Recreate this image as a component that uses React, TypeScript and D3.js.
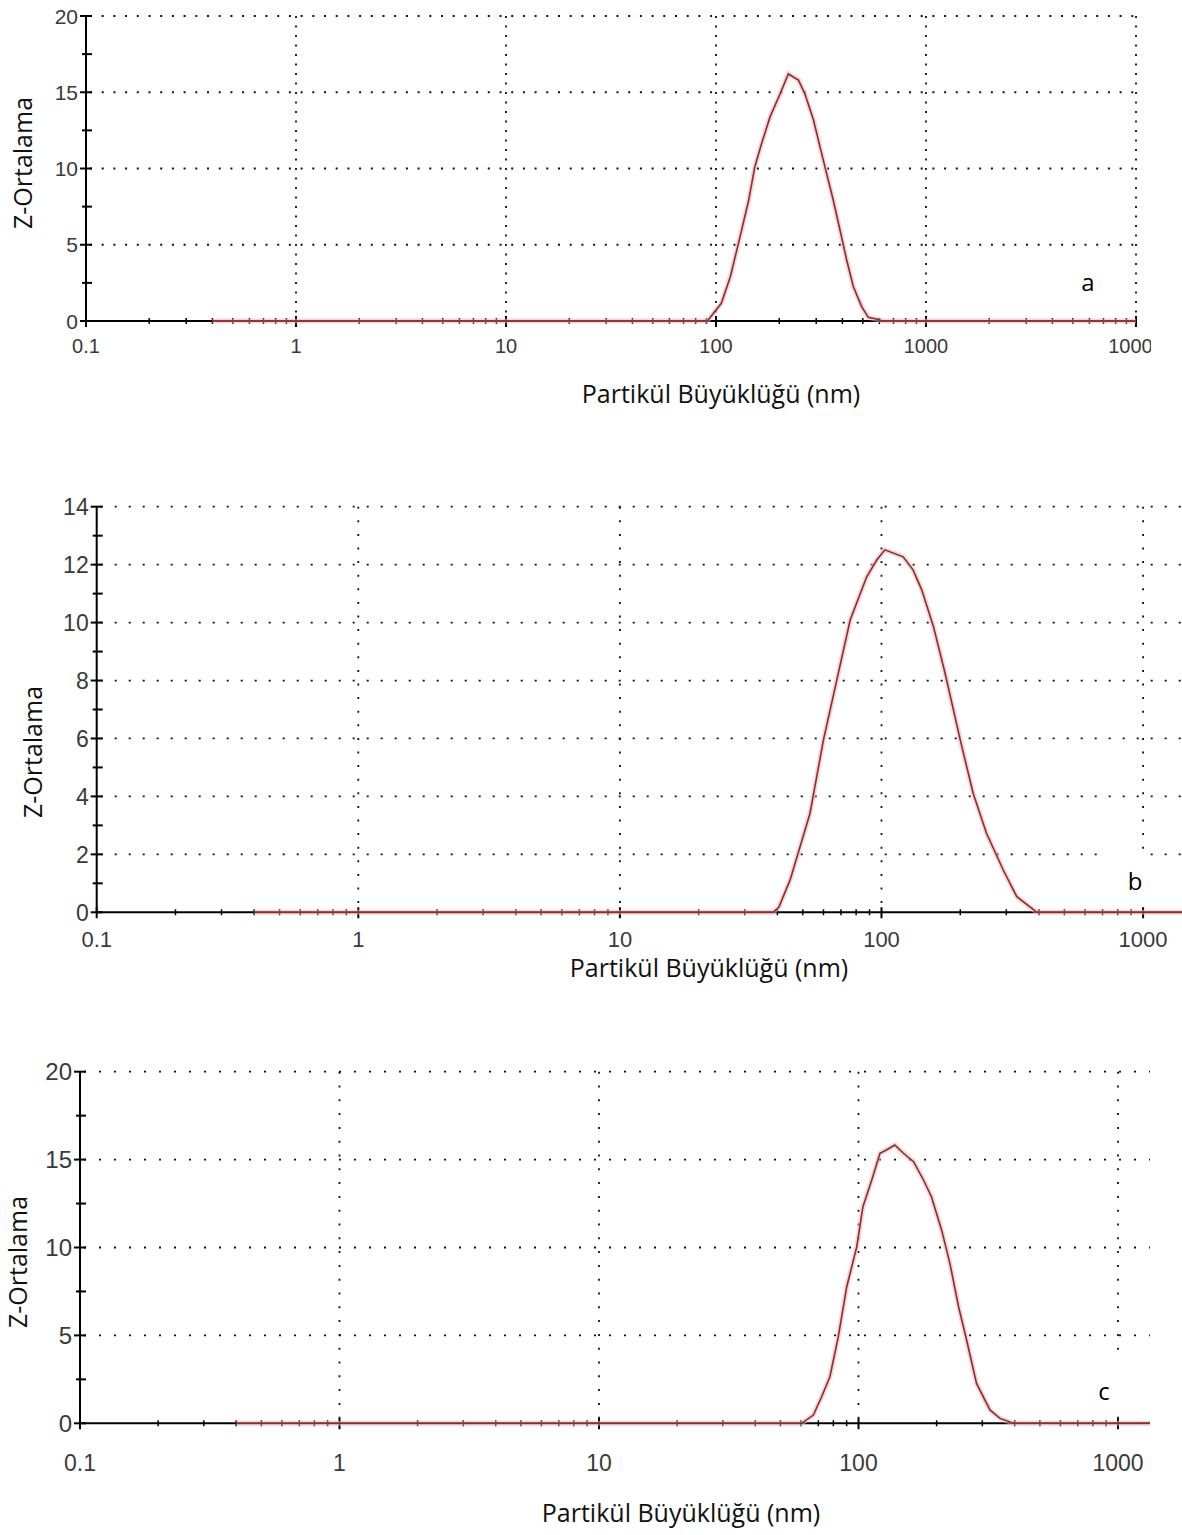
import React from "react";
import * as d3 from "d3";

// ---- data ----
const xTickLabels = ["0.1", "1", "10", "100", "1000", "10000"];
const xTickValues = [0.1, 1, 10, 100, 1000, 10000];

const sizeA = [0.4, 91, 106, 117, 130, 143, 153, 165, 181, 202, 221, 247, 265, 291, 313, 336, 362, 389, 419, 451, 494, 531, 593, 620, 10000];
const zA = [0, 0, 1.16, 2.9, 5.5, 7.9, 10.1, 11.65, 13.4, 14.9, 16.2, 15.8, 14.9, 13.2, 11.4, 9.7, 7.9, 6.0, 4.0, 2.25, 0.94, 0.24, 0.1, 0, 0];

const sizeB = [0.4, 38.5, 40.5, 44.7, 48, 53.3, 60, 67.5, 75.9, 87.8, 95.9, 103, 121, 132, 142.5, 158, 175, 200, 224, 252, 292, 329, 380, 392, 10000];
const zB = [0, 0, 0.17, 1.11, 2.04, 3.42, 5.95, 8.02, 10.09, 11.58, 12.16, 12.51, 12.27, 11.82, 11.13, 9.86, 8.25, 5.95, 4.11, 2.73, 1.46, 0.54, 0.1, 0, 0];

const sizeC = [0.4, 60.4, 67, 72.1, 77.6, 83.6, 90.1, 98.5, 104, 112.5, 121, 128, 138, 149, 163, 178, 191, 209, 225, 243, 261, 285, 321, 351, 395, 10000];
const zC = [0, 0, 0.47, 1.51, 2.65, 4.93, 7.77, 10.05, 12.32, 13.84, 15.36, 15.55, 15.83, 15.36, 14.88, 13.84, 12.89, 11.0, 9.1, 6.63, 4.74, 2.27, 0.76, 0.28, 0, 0];

const yTicksA = [0, 5, 10, 15, 20];
const yTicksB = [0, 2, 4, 6, 8, 10, 12, 14];
const yTicksC = [0, 5, 10, 15, 20];

const yTitle = "Z-Ortalama";
const xTitle = "Partikül Büyüklüğü (nm)";

type PanelProps = {
  id: string;
  sizes: number[];
  values: number[];
  yTicks: number[];
  yMinorStep: number;
  left: number;
  decade: number;
  y0: number;
  yTop: number;
  clipRight: number;
  hDash: string;
  vDash: string;
  tickFont: number;
  yLabelFont: number;
  xLabelBaseline: number;
  yTitleX: number;
  yTitleY: number;
  xTitleX: number;
  xTitleY: number;
  letter: string;
  letterX: number;
  letterY: number;
  box?: [number, number, number, number];
};

function Panel(p: PanelProps) {
  const yMax = p.yTicks[p.yTicks.length - 1];
  const x = d3.scaleLog().domain([0.1, 10000]).range([p.left, p.left + 5 * p.decade]);
  const y = d3.scaleLinear().domain([0, yMax]).range([p.y0, p.yTop]);
  const pts: [number, number][] = p.sizes.map((s, i) => [s, p.values[i]]);
  const line = d3
    .line<[number, number]>()
    .x((d) => x(d[0]))
    .y((d) => y(d[1]));
  const path = line(pts) || "";

  const minorX: number[] = [];
  for (let e = -1; e < 4; e++) {
    for (let k = 2; k <= 9; k++) minorX.push(k * Math.pow(10, e));
  }
  const minorY: number[] = [];
  for (let v = p.yMinorStep; v < yMax; v += p.yMinorStep * 2) minorY.push(v);

  const clipId = "clip-" + p.id;
  const tickColor = "#3a3a3a";
  const visibleLabels = xTickValues
    .map((t, i) => ({ t, label: xTickLabels[i] }))
    .filter((d) => x(d.t) < p.clipRight + 10);
  return (
    <g>
      <defs>
        <clipPath id={clipId}>
          <rect x={0} y={p.yTop - 30} width={p.clipRight} height={p.y0 - p.yTop + 80} />
        </clipPath>
      </defs>
      <g clipPath={`url(#${clipId})`}>
        {/* horizontal grid */}
        {p.yTicks.slice(1).map((t) => (
          <line key={"h" + t} x1={p.left + 4} x2={x(10000)} y1={y(t)} y2={y(t)} stroke="#111" strokeWidth={1.8} strokeDasharray={p.hDash} />
        ))}
        {/* vertical grid */}
        {xTickValues.slice(1).map((t) => (
          <line key={"v" + t} x1={x(t)} x2={x(t)} y1={p.yTop} y2={p.y0 - 4} stroke="#111" strokeWidth={1.8} strokeDasharray={p.vDash} />
        ))}
        {/* x axis */}
        <line x1={p.left} x2={x(10000)} y1={p.y0} y2={p.y0} stroke="#000" strokeWidth={2} />
        {xTickValues.map((t) => (
          <line key={"xt" + t} x1={x(t)} x2={x(t)} y1={p.y0 - 5} y2={p.y0 + 6} stroke="#000" strokeWidth={2} />
        ))}
        {minorX.map((t) => (
          <line key={"xm" + t} x1={x(t)} x2={x(t)} y1={p.y0 - 3} y2={p.y0 + 3} stroke="#000" strokeWidth={1.5} />
        ))}
        {/* data line */}
        <path d={path} fill="none" stroke="#f2b3b3" strokeOpacity={0.55} strokeWidth={5} />
        <path d={path} fill="none" stroke="#8a2d2d" strokeWidth={1.6} />
        {/* x tick labels */}
        {visibleLabels.map((d) => (
          <text key={"xl" + d.t} x={x(d.t)} y={p.xLabelBaseline} textAnchor="middle" fontFamily="'Liberation Sans', Arial, sans-serif" fontSize={p.tickFont} fill={tickColor}>
            {d.label}
          </text>
        ))}
      </g>
      {/* y axis */}
      <line x1={p.left} x2={p.left} y1={p.yTop} y2={p.y0} stroke="#000" strokeWidth={2} />
      {p.yTicks.map((t) => (
        <line key={"yt" + t} x1={p.left - 6} x2={p.left + 6} y1={y(t)} y2={y(t)} stroke="#000" strokeWidth={2} />
      ))}
      {minorY.map((t) => (
        <line key={"ym" + t} x1={p.left - 4} x2={p.left + 6} y1={y(t)} y2={y(t)} stroke="#000" strokeWidth={2} />
      ))}
      {p.yTicks.map((t) => (
        <text key={"yl" + t} x={p.left - 8} y={y(t)} dy="0.36em" textAnchor="end" fontFamily="'Liberation Sans', Arial, sans-serif" fontSize={p.yLabelFont} fill={tickColor}>
          {String(t)}
        </text>
      ))}
      {p.box && <rect x={p.box[0]} y={p.box[1]} width={p.box[2]} height={p.box[3]} fill="#fff" />}
      <text x={p.letterX} y={p.letterY} textAnchor="middle" fontFamily="'Open Sans', sans-serif" fontSize={24} fill="#000">
        {p.letter}
      </text>
      <text transform={`translate(${p.yTitleX},${p.yTitleY}) rotate(-90)`} textAnchor="middle" dy="0.35em" fontFamily="'Open Sans', sans-serif" fontSize={25} fill="#111">
        {yTitle}
      </text>
      <text x={p.xTitleX} y={p.xTitleY} textAnchor="middle" fontFamily="'Open Sans', sans-serif" fontSize={25} fill="#111">
        {xTitle}
      </text>
    </g>
  );
}

export default function App() {
  return (
    <svg width={1182} height={1535} style={{ position: "absolute", left: 0, top: 0, background: "#fff" }}>
      <rect x={0} y={0} width={1182} height={1535} fill="#fff" />
      <Panel
        id="a"
        sizes={sizeA}
        values={zA}
        yTicks={yTicksA}
        yMinorStep={2.5}
        left={86}
        decade={210}
        y0={321}
        yTop={16}
        clipRight={1151}
        hDash="2,9.7"
        vDash="2,7.5"
        tickFont={20}
        yLabelFont={21}
        xLabelBaseline={353}
        yTitleX={23}
        yTitleY={163}
        xTitleX={721}
        xTitleY={403}
        letter="a"
        letterX={1088}
        letterY={291}
      />
      <Panel
        id="b"
        sizes={sizeB}
        values={zB}
        yTicks={yTicksB}
        yMinorStep={1}
        left={96.7}
        decade={261.6}
        y0={912.3}
        yTop={506.7}
        clipRight={1182}
        hDash="2,12"
        vDash="2,11.6"
        tickFont={22}
        yLabelFont={23}
        xLabelBaseline={947}
        yTitleX={33}
        yTitleY={752}
        xTitleX={709}
        xTitleY={977}
        letter="b"
        letterX={1135}
        letterY={890}
        box={[1107, 850, 43, 53]}
      />
      <Panel
        id="c"
        sizes={sizeC}
        values={zC}
        yTicks={yTicksC}
        yMinorStep={2.5}
        left={80}
        decade={259.5}
        y0={1423.3}
        yTop={1071.7}
        clipRight={1150}
        hDash="2,13"
        vDash="2,11.8"
        tickFont={23}
        yLabelFont={24}
        xLabelBaseline={1471}
        yTitleX={18}
        yTitleY={1262}
        xTitleX={681}
        xTitleY={1522}
        letter="c"
        letterX={1104}
        letterY={1400}
        box={[1077, 1355, 45, 60]}
      />
    </svg>
  );
}
